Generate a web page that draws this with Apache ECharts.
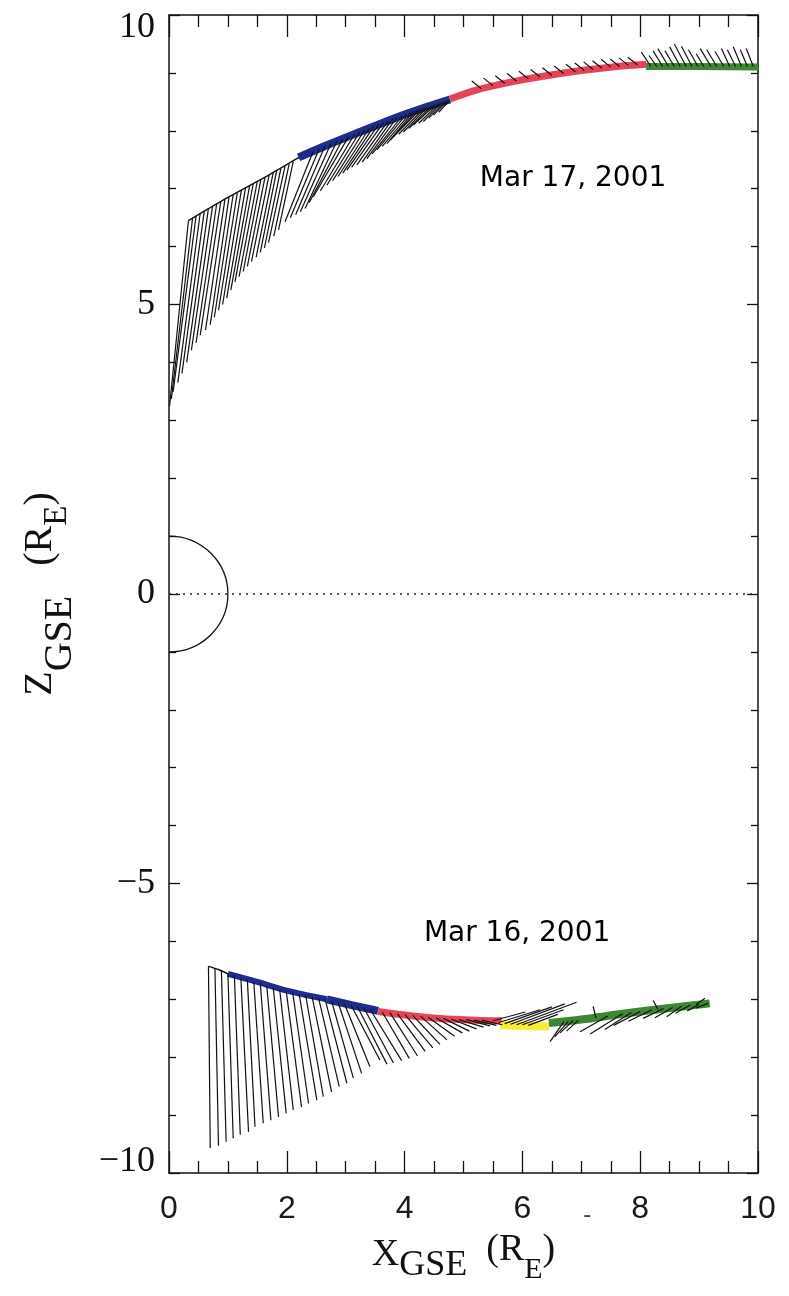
<!DOCTYPE html>
<html><head><meta charset="utf-8">
<script src="https://cdn.jsdelivr.net/npm/echarts@6/dist/echarts.min.js"></script>
<style>html,body{margin:0;padding:0;background:#fff}#c{width:789px;height:1296px}</style>
</head><body><div id="c"></div><script>
// ---- axis ticks ----
const xTickValues = [0, 2, 4, 6, 8, 10];
const zTickValues = [-10, -5, 0, 5, 10];

// ---- Earth and equator line ----
const earthCenter = [0, 0];
const earthRadius = [1];
const zeroLine = [[0, 0], [10, 0]];

// ---- annotations ----
const dayLabels = ['Mar 17, 2001', 'Mar 16, 2001'];
const dayLabelPos = [[6.86, 7.18], [5.91, -5.86]];

// ---- Mar 17 orbit track segments ----
const mar17Black = [[0.33, 6.45], [1.0, 6.85], [1.7, 7.24], [2.22, 7.55]];
const mar17Blue = [[2.20, 7.54], [2.68, 7.75], [3.24, 7.98], [3.81, 8.21], [4.37, 8.41], [4.77, 8.54]];
const mar17Red = [[4.77, 8.55], [5.2, 8.70], [5.8, 8.84], [6.4, 8.95], [7.0, 9.04], [7.6, 9.11], [8.1, 9.15]];
const mar17Green = [[8.1, 9.11], [9.0, 9.11], [10, 9.10]];

// ---- Mar 16 orbit track segments ----
const mar16Black = [[0.67, -6.43], [0.85, -6.49], [1.0, -6.56]];
const mar16Blue1 = [[1.0, -6.56], [1.5, -6.70], [2.0, -6.85], [2.68, -7.00]];
const mar16Blue2 = [[2.68, -7.00], [3.1, -7.10], [3.55, -7.20]];
const mar16Red = [[3.55, -7.21], [4.0, -7.27], [4.6, -7.33], [5.2, -7.36], [5.65, -7.37]];
const mar16Yellow = [[5.62, -7.45], [6.45, -7.47]];
const mar16Green = [[6.45, -7.41], [7.0, -7.35], [7.7, -7.25], [8.5, -7.15], [9.18, -7.07]];

// ---- Mar 17 whiskers (start on track, end point) ----
const mar17FanStart = [[0.33,6.45],[0.40,6.49],[0.46,6.53],[0.53,6.58],[0.60,6.62],[0.67,6.66],[0.74,6.70],[0.81,6.74],[0.88,6.78],[0.95,6.82],[1.02,6.86],[1.09,6.90],[1.16,6.93],[1.23,6.98],[1.30,7.02],[1.37,7.06],[1.43,7.09],[1.50,7.13],[1.56,7.16],[1.63,7.20],[1.70,7.24],[1.77,7.28],[1.83,7.32],[1.90,7.35],[1.97,7.39],[2.04,7.43],[2.11,7.47],
  [2.45,7.65],[2.55,7.69],[2.65,7.74],[2.75,7.78],[2.85,7.82],[2.95,7.86],[3.05,7.90],[3.15,7.94],[3.24,7.98],[3.32,8.01],[3.40,8.04],[3.48,8.08],[3.56,8.11],[3.64,8.14],[3.72,8.17],[3.80,8.21],[3.88,8.24],[3.96,8.26],[4.03,8.29],[4.10,8.31],[4.16,8.34],[4.22,8.36],[4.28,8.38],[4.34,8.40],[4.40,8.42],[4.46,8.43],[4.52,8.45],[4.58,8.47],[4.63,8.49],[4.68,8.50],[4.73,8.52],[4.77,8.53]];
const mar17FanEnd = [[0.01,3.25],[0.04,3.37],[0.07,3.49],[0.15,3.65],[0.22,3.81],[0.30,4.00],[0.38,4.21],[0.46,4.34],[0.53,4.47],[0.62,4.56],[0.70,4.65],[0.77,4.78],[0.84,4.90],[0.91,5.00],[0.98,5.11],[1.05,5.25],[1.12,5.39],[1.19,5.48],[1.26,5.57],[1.33,5.66],[1.40,5.74],[1.48,5.82],[1.55,5.90],[1.62,5.98],[1.69,6.07],[1.78,6.18],[1.86,6.29],
  [1.97,6.43],[2.06,6.50],[2.15,6.55],[2.23,6.60],[2.31,6.66],[2.38,6.76],[2.45,6.86],[2.57,6.96],[2.68,7.06],[2.78,7.14],[2.87,7.21],[2.95,7.27],[3.02,7.32],[3.10,7.37],[3.19,7.41],[3.28,7.46],[3.36,7.52],[3.45,7.60],[3.53,7.67],[3.62,7.73],[3.70,7.78],[3.76,7.84],[3.81,7.90],[3.90,7.94],[3.98,7.98],[4.07,8.04],[4.15,8.10],[4.24,8.13],[4.32,8.16],[4.41,8.22],[4.49,8.27],[4.58,8.32],[4.66,8.36]];
const mar17RedStart = [[5.30,8.73],[5.50,8.78],[5.70,8.82],[5.90,8.86],[6.10,8.90],[6.30,8.93],[6.50,8.96],[6.70,8.99],[6.90,9.02],[7.05,9.04],[7.20,9.06],[7.35,9.08],[7.50,9.10],[7.65,9.11],[7.80,9.13],[7.95,9.14]];
const mar17RedEnd = [[5.14,8.86],[5.34,8.91],[5.54,8.95],[5.74,8.99],[5.94,9.03],[6.14,9.06],[6.34,9.09],[6.54,9.12],[6.74,9.15],[6.89,9.17],[7.04,9.19],[7.19,9.21],[7.34,9.23],[7.49,9.24],[7.64,9.26],[7.79,9.27]];
const mar17GreenStart = [[8.18,9.11],[8.28,9.11],[8.38,9.11],[8.48,9.11],[8.58,9.11],[8.68,9.11],[8.78,9.11],[8.88,9.11],[8.98,9.11],[9.08,9.11],[9.20,9.11],[9.30,9.11],[9.42,9.11],[9.52,9.11],[9.62,9.11],[9.72,9.11],[9.82,9.11],[9.92,9.11]];
const mar17GreenEnd = [[8.02,9.36],[8.15,9.30],[8.22,9.38],[8.30,9.42],[8.42,9.38],[8.50,9.45],[8.58,9.50],[8.70,9.46],[8.82,9.40],[8.95,9.33],[9.02,9.42],[9.13,9.40],[9.27,9.37],[9.38,9.42],[9.48,9.40],[9.58,9.45],[9.70,9.40],[9.80,9.42]];

// ---- Mar 16 whiskers ----
const mar16FanStart = [[0.67,-6.43],[0.78,-6.47],[0.89,-6.51],[1.00,-6.56],[1.11,-6.59],[1.22,-6.63],[1.33,-6.66],[1.44,-6.70],[1.55,-6.73],[1.66,-6.77],[1.77,-6.80],[1.88,-6.84],[1.99,-6.86],
  [2.10,-6.88],[2.21,-6.91],[2.32,-6.93],[2.43,-6.96],[2.54,-6.98],[2.65,-7.00],[2.76,-7.03],[2.87,-7.05],[2.98,-7.08],[3.09,-7.10],[3.20,-7.13],[3.31,-7.15],[3.42,-7.18]];
const mar16FanEnd = [[0.70,-9.57],[0.84,-9.53],[0.97,-9.46],[1.09,-9.40],[1.21,-9.34],[1.35,-9.29],[1.46,-9.20],[1.60,-9.14],[1.73,-9.09],[1.86,-9.03],[1.99,-8.97],[2.11,-8.91],[2.25,-8.86],
  [2.37,-8.80],[2.51,-8.74],[2.62,-8.68],[2.76,-8.60],[2.89,-8.51],[3.02,-8.45],[3.13,-8.36],[3.27,-8.28],[3.41,-8.16],[3.58,-8.05],[3.70,-8.12],[3.81,-8.10],[3.95,-8.06]];
const mar16RedStart = [[3.62,-7.22],[3.75,-7.23],[3.88,-7.25],[4.01,-7.27],[4.14,-7.28],[4.27,-7.29],[4.40,-7.31],[4.53,-7.32],[4.66,-7.33],[4.79,-7.34],[4.92,-7.35],[5.05,-7.35],[5.18,-7.36],[5.31,-7.36]];
const mar16RedEnd = [[4.08,-8.02],[4.22,-7.98],[4.35,-7.90],[4.48,-7.84],[4.60,-7.78],[4.72,-7.70],[4.85,-7.64],[4.98,-7.58],[5.10,-7.55],[5.22,-7.51],[5.34,-7.48],[5.45,-7.46],[5.56,-7.45],[5.66,-7.44]];
const mar16YellowStart = [[5.50,-7.37],[5.60,-7.40],[5.70,-7.42],[5.80,-7.43],[5.90,-7.44],[6.00,-7.44],[6.10,-7.45]];
const mar16YellowEnd = [[6.05,-7.22],[6.30,-7.18],[6.50,-7.13],[6.72,-7.08],[6.92,-7.05],[6.70,-7.18],[6.60,-7.26]];
const mar16GreenStart = [[6.70,-7.39],[6.78,-7.38],[6.86,-7.37],[6.95,-7.36],[7.45,-7.29],[7.70,-7.25],[7.85,-7.23],[8.00,-7.21],[8.20,-7.18],[8.40,-7.16],[8.55,-7.14],[8.70,-7.12],[8.85,-7.10],[9.00,-7.09],[9.15,-7.07],[7.25,-7.32],[8.30,-7.17],[8.95,-7.09]];
const mar16GreenEnd = [[6.47,-7.73],[6.55,-7.65],[6.64,-7.58],[6.75,-7.55],[6.98,-7.56],[7.15,-7.60],[7.40,-7.52],[7.55,-7.45],[7.80,-7.38],[8.05,-7.33],[8.25,-7.32],[8.45,-7.30],[8.60,-7.24],[8.80,-7.20],[8.95,-7.15],[7.20,-7.12],[8.22,-7.02],[9.10,-6.98]];

// ---- colours ----
const C_BLUE = '#1f2c8c', C_RED = '#e6435a', C_GREEN = '#3f8535', C_YELLOW = '#f4ee34', C_INK = '#111';

const chart = echarts.init(document.getElementById('c'), null, {renderer: 'canvas'});

function track(data, color, width) {
  return {type: 'line', data: data, showSymbol: false, symbol: 'none', smooth: 0.3, clip: true,
    lineStyle: {color: color, width: width, cap: 'butt'}, silent: true, z: 2};
}
function whiskers(starts, ends) {
  return {type: 'lines', coordinateSystem: 'cartesian2d', polyline: false, silent: true, z: 3,
    lineStyle: {color: C_INK, width: 1.2, opacity: 1, curveness: 0},
    data: starts.map((s, i) => ({coords: [s, ends[i]]}))};
}

const serif = 'Liberation Serif';
function axisBase(extra) {
  return Object.assign({
    axisLine: {show: true, onZero: false, lineStyle: {color: C_INK, width: 1.5}},
    splitLine: {show: false}
  }, extra);
}

const option = {
  backgroundColor: '#fff',
  animation: false,
  grid: {left: 169, right: 31, top: 15, bottom: 123, containLabel: false, outerBoundsMode: 'none'},
  xAxis: [
    axisBase({
      type: 'value', min: 0, max: 10, interval: 2, position: 'bottom',
      axisTick: {show: true, inside: true, length: 22, lineStyle: {color: C_INK, width: 1.3}},
      minorTick: {show: true, splitNumber: 4, length: 12, lineStyle: {color: C_INK, width: 1.3}},
      axisLabel: {show: true, margin: 20, fontSize: 32, fontFamily: 'Liberation Sans', color: '#1a1a1a',
        formatter: v => xTickValues.indexOf(v) >= 0 ? String(v) : ''},
      name: '{m|X}{s|GSE}{m|  }{p|(R}{e|E}{p|)}',
      nameLocation: 'middle', nameGap: 62, nameMoveOverlap: false,
      nameTextStyle: {rich: {
        m: {fontFamily: serif, fontSize: 38, lineHeight: 40, color: C_INK},
        s: {fontFamily: serif, fontSize: 36, lineHeight: 38, color: C_INK, padding: [22, 0, 0, 0]},
        p: {fontFamily: serif, fontSize: 38, lineHeight: 40, color: C_INK, padding: [0, 0, 10, 0]},
        e: {fontFamily: serif, fontSize: 30, lineHeight: 32, color: C_INK, padding: [30, 0, 0, 0]}
      }}
    }),
    axisBase({
      type: 'value', min: 0, max: 10, interval: 2, position: 'top',
      axisTick: {show: true, inside: true, length: 22, lineStyle: {color: C_INK, width: 1.3}},
      minorTick: {show: true, splitNumber: 4, length: 12, lineStyle: {color: C_INK, width: 1.3}},
      axisLabel: {show: false}
    })
  ],
  yAxis: [
    axisBase({
      type: 'value', min: -10, max: 10, interval: 5, position: 'left',
      axisTick: {show: true, inside: true, length: 11, lineStyle: {color: C_INK, width: 1.3}},
      minorTick: {show: true, splitNumber: 5, length: 7, lineStyle: {color: C_INK, width: 1.3}},
      axisLabel: {show: true, margin: 14, fontSize: 36, fontFamily: serif, color: C_INK,
        formatter: v => {
          if (zTickValues.indexOf(v) < 0) return '';
          const t = String(v).replace('-', '\u2212');
          if (v === zTickValues[zTickValues.length - 1]) return '{top|' + t + '}';
          if (v === zTickValues[0]) return '{bot|' + t + '}';
          return t;
        },
        rich: {
          top: {fontSize: 36, fontFamily: serif, color: C_INK, padding: [26, 0, 0, 0]},
          bot: {fontSize: 36, fontFamily: serif, color: C_INK, padding: [0, 0, 22, 0]}
        }},
      name: '{m|Z}{s|GSE}{m|   }{p|(R}{e|E}{p|)}',
      nameLocation: 'middle', nameRotate: 90, nameGap: 108, nameMoveOverlap: false,
      nameTextStyle: {rich: {
        m: {fontFamily: serif, fontSize: 40, lineHeight: 42, color: C_INK},
        s: {fontFamily: serif, fontSize: 40, lineHeight: 42, color: C_INK, padding: [40, 0, 0, 0]},
        p: {fontFamily: serif, fontSize: 40, lineHeight: 42, color: C_INK},
        e: {fontFamily: serif, fontSize: 33, lineHeight: 35, color: C_INK, padding: [34, 0, 0, 0]}
      }}
    }),
    axisBase({
      type: 'value', min: -10, max: 10, interval: 5, position: 'right',
      axisTick: {show: true, inside: true, length: 11, lineStyle: {color: C_INK, width: 1.3}},
      minorTick: {show: true, splitNumber: 5, length: 7, lineStyle: {color: C_INK, width: 1.3}},
      axisLabel: {show: false}
    })
  ],
  series: [
    {type: 'line', data: zeroLine, showSymbol: false, symbol: 'none', silent: true, z: 1,
      lineStyle: {color: '#222', width: 1.4, type: [2, 5]}},
    {type: 'custom', data: [earthCenter], silent: true, z: 1, clip: false,
      renderItem: (params, api) => {
        const c = api.coord([api.value(0), api.value(1)]);
        const s = api.size([earthRadius[0], earthRadius[0]]);
        return {type: 'arc', x: c[0], y: c[1], scaleX: 1, scaleY: s[1] / s[0],
          shape: {cx: 0, cy: 0, r: s[0], startAngle: -Math.PI / 2, endAngle: Math.PI / 2, clockwise: true},
          style: {stroke: C_INK, lineWidth: 1.3, fill: null}};
      }},
    track(mar17Black, C_INK, 1.4),
    track(mar17Blue, C_BLUE, 8),
    track(mar17Red, C_RED, 7),
    track(mar17Green, C_GREEN, 7),
    track(mar16Black, C_INK, 1.4),
    track(mar16Blue1, C_BLUE, 6),
    track(mar16Blue2, C_BLUE, 8),
    track(mar16Red, C_RED, 7),
    track(mar16Yellow, C_YELLOW, 8),
    track(mar16Green, C_GREEN, 8),
    whiskers(mar17FanStart, mar17FanEnd),
    whiskers(mar17RedStart, mar17RedEnd),
    whiskers(mar17GreenStart, mar17GreenEnd),
    whiskers(mar16FanStart, mar16FanEnd),
    whiskers(mar16RedStart, mar16RedEnd),
    whiskers(mar16YellowStart, mar16YellowEnd),
    whiskers(mar16GreenStart, mar16GreenEnd),
    {type: 'scatter', symbolSize: 0.01, silent: true, z: 5,
      data: dayLabelPos.map((p, i) => ({value: p, name: dayLabels[i]})),
      label: {show: true, position: 'inside', formatter: p => p.name, opacity: 1,
        textBorderWidth: 0, fontFamily: 'DejaVu Sans', fontSize: 28, color: '#000'}}
  ]
};
chart.setOption(option);

// small stray dash printed between the 6 and 8 tick labels in the original
const dashX = chart.convertToPixel({xAxisIndex: 0}, 7.1);
const axisY = chart.convertToPixel({yAxisIndex: 0}, -10);
chart.setOption({graphic: [{type: 'text', x: dashX, y: axisY + 42, style: {text: '-', fontSize: 24,
  fontFamily: 'Liberation Sans', fill: '#444', align: 'center', verticalAlign: 'middle'}}]});
</script></body></html>
